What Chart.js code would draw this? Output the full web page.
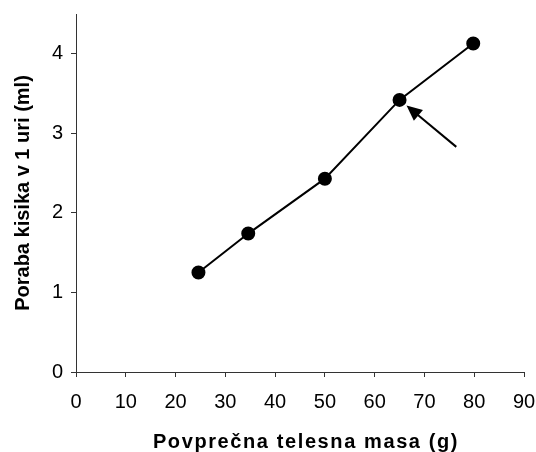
<!DOCTYPE html>
<html>
<head>
<meta charset="utf-8">
<script src="https://cdn.jsdelivr.net/npm/chart.js@4"></script>
<style>
  html, body { margin: 0; padding: 0; background: #fff; }
  #wrap { width: 536px; height: 452px; }
</style>
</head>
<body>
<div id="wrap"><canvas id="lineChart" width="536" height="452"></canvas></div>
<script>
// body mass (g) and oxygen use per hour (ml)
const masa = [24.6, 34.6, 50, 65, 79.8];
const poraba = [1.25, 1.74, 2.43, 3.42, 4.13];
const xTicks = [0, 10, 20, 30, 40, 50, 60, 70, 80, 90];
const yTicks = [0, 1, 2, 3, 4];
const xTitle = 'Povprečna telesna masa (g)';
const yTitle = 'Poraba kisika v 1 uri (ml)';
// arrow pointing at the 65 g point: tail -> tip
const arrowFrom = [76.4, 2.83];
const arrowTo = [66.4, 3.35];

const font = 'Liberation Sans, Arial, sans-serif';

const arrowPlugin = {
  id: 'arrow',
  afterDatasetsDraw(chart) {
    const { ctx, scales } = chart;
    const x0 = scales.x.getPixelForValue(arrowFrom[0]);
    const y0 = scales.y.getPixelForValue(arrowFrom[1]);
    const x1 = scales.x.getPixelForValue(arrowTo[0]);
    const y1 = scales.y.getPixelForValue(arrowTo[1]);
    const ang = Math.atan2(y1 - y0, x1 - x0);
    const head = 17;
    ctx.save();
    ctx.strokeStyle = '#000';
    ctx.fillStyle = '#000';
    ctx.lineWidth = 2;
    ctx.beginPath();
    ctx.moveTo(x0, y0);
    ctx.lineTo(x1 - Math.cos(ang) * head * 0.8, y1 - Math.sin(ang) * head * 0.8);
    ctx.stroke();
    ctx.beginPath();
    ctx.moveTo(x1, y1);
    ctx.lineTo(x1 - head * Math.cos(ang - 0.43), y1 - head * Math.sin(ang - 0.43));
    ctx.lineTo(x1 - head * Math.cos(ang + 0.43), y1 - head * Math.sin(ang + 0.43));
    ctx.closePath();
    ctx.fill();
    ctx.restore();
  },
};

// x title is drawn here because it has wider letter spacing
const xTitlePlugin = {
  id: 'xTitle',
  afterDraw(chart) {
    const { ctx, chartArea } = chart;
    ctx.save();
    ctx.font = 'bold 20px ' + font;
    ctx.letterSpacing = '1.6px';
    ctx.fillStyle = '#000';
    ctx.textAlign = 'center';
    ctx.textBaseline = 'alphabetic';
    ctx.fillText(xTitle, (chartArea.left + chartArea.right) / 2 + 6, 448);
    ctx.restore();
  },
};

const ctx = document.getElementById('lineChart').getContext('2d');
new Chart(ctx, {
  type: 'scatter',
  data: {
    datasets: [
      {
        label: 'Poraba kisika',
        data: masa.map((m, i) => ({ x: m, y: poraba[i] })),
        showLine: true,
        borderColor: '#000',
        borderWidth: 2,
        backgroundColor: '#000',
        pointBackgroundColor: '#000',
        pointBorderColor: '#000',
        pointRadius: 6,
      },
    ],
  },
  options: {
    responsive: false,
    animation: false,
    layout: {
      padding: { top: 14, right: 12, left: 0, bottom: 0 },
    },
    plugins: {
      legend: { display: false },
      tooltip: { enabled: false },
    },
    scales: {
      x: {
        type: 'linear',
        min: 0,
        max: 90,
        afterBuildTicks: (axis) => { axis.ticks = xTicks.map((v) => ({ value: v })); },
        afterFit: (axis) => {
          axis.height = 80;
          axis.paddingLeft = 0;
          axis.paddingRight = 0;
        },
        grid: {
          drawOnChartArea: false,
          tickLength: 5,
          color: '#333',
        },
        border: { color: '#333', width: 1 },
        ticks: {
          color: '#000',
          padding: 13,
          font: { family: font, size: 20 },
        },
      },
      y: {
        type: 'linear',
        min: 0,
        max: 4.5,
        afterBuildTicks: (axis) => { axis.ticks = yTicks.map((v) => ({ value: v })); },
        afterFit: (axis) => {
          axis.width = 76;
          axis.paddingTop = 0;
          axis.paddingBottom = 0;
        },
        grid: {
          drawOnChartArea: false,
          tickLength: 5,
          color: '#333',
        },
        border: { color: '#333', width: 1 },
        ticks: {
          color: '#000',
          padding: 8,
          font: { family: font, size: 20 },
        },
        title: {
          display: true,
          text: yTitle,
          color: '#000',
          padding: { top: 11, bottom: 0 },
          font: { family: font, size: 20, weight: 'bold' },
        },
      },
    },
  },
  plugins: [arrowPlugin, xTitlePlugin],
});
</script>
</body>
</html>
